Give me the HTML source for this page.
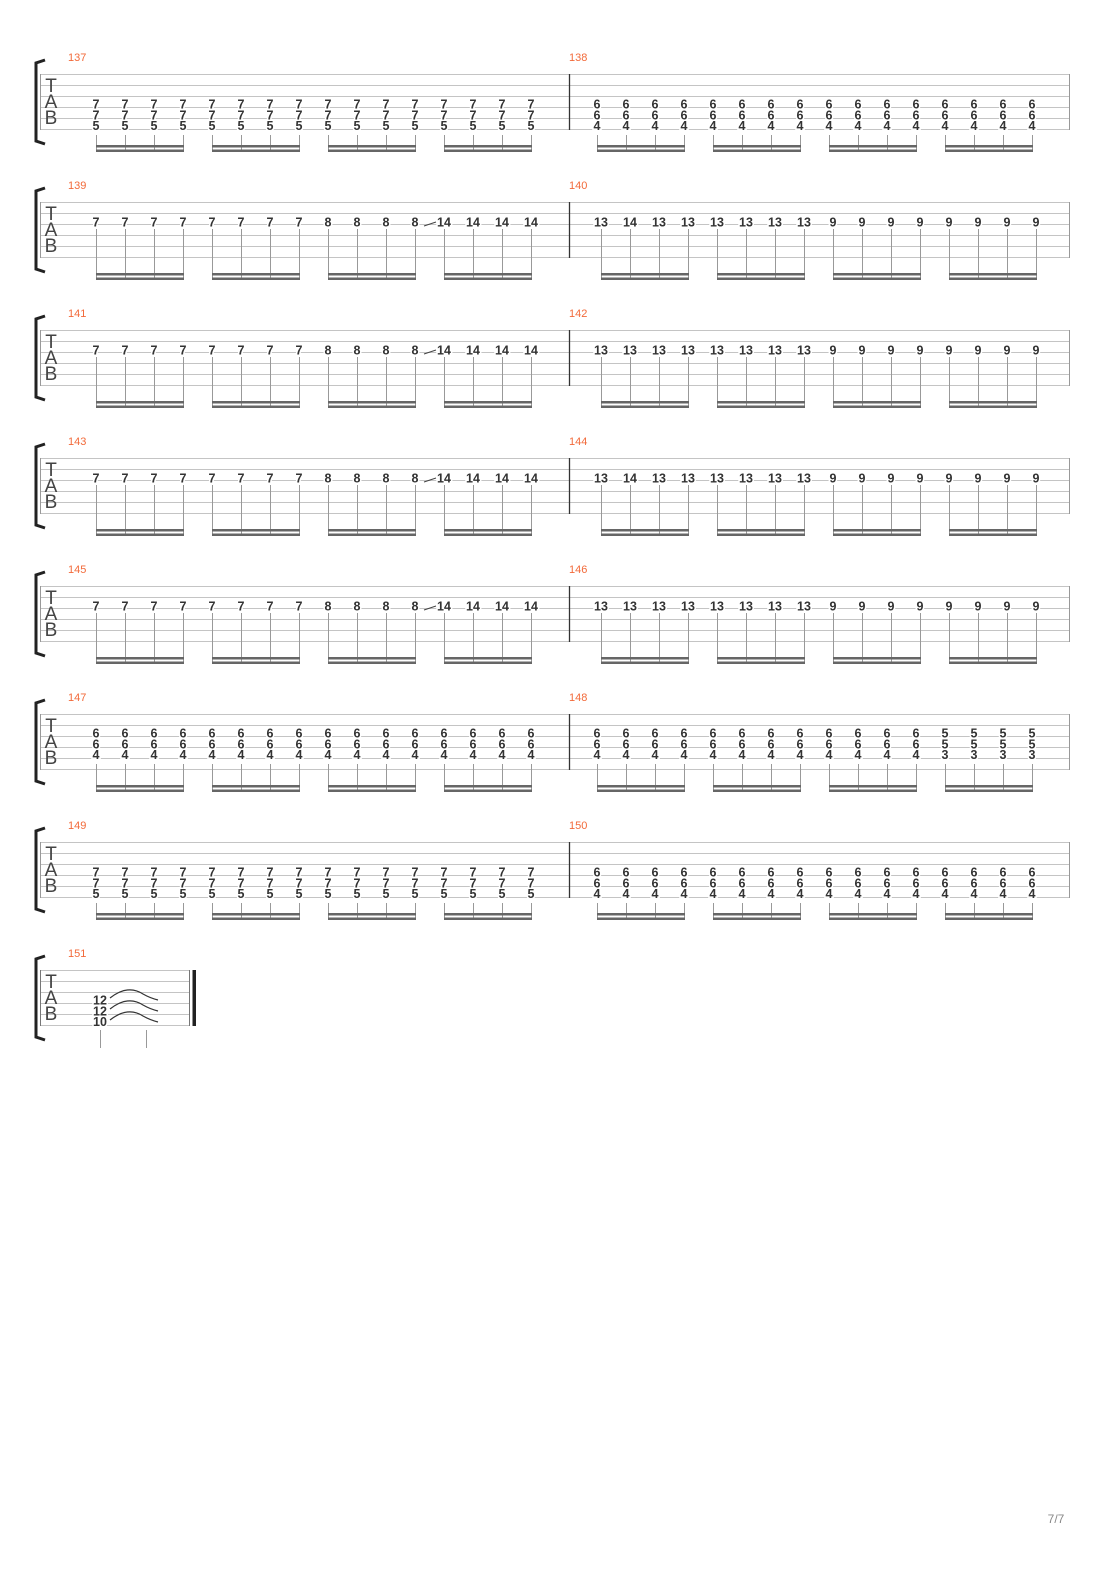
<!DOCTYPE html>
<html><head><meta charset="utf-8"><style>
html,body{margin:0;padding:0;background:#fff;}
svg{display:block;}
.n{font-family:"Liberation Sans",sans-serif;font-weight:bold;font-size:12.5px;fill:#333;text-anchor:middle;stroke:#fff;stroke-width:3px;paint-order:stroke;}
.m{font-family:"Liberation Sans",sans-serif;font-size:11px;fill:#f26a3a;}
.tab{font-family:"Liberation Sans",sans-serif;font-size:19px;fill:#444;text-anchor:middle;}
</style></head><body>
<svg width="1110" height="1570" viewBox="0 0 1110 1570" xmlns="http://www.w3.org/2000/svg">
<defs>
<g id="staff">
<path d="M40 0.5H1069M40 11.5H1069M40 22.5H1069M40 33.5H1069M40 44.5H1069M40 55.5H1069" stroke="#c4c4c4" stroke-width="1" fill="none"/>
<path d="M40.5 0V56M1069.5 0V56" stroke="#999" stroke-width="1"/>
<path d="M569.5 0V56" stroke="#333" stroke-width="1.3"/>
<path d="M45 -14 L36 -11 L36 67 L45 70" stroke="#222" stroke-width="3" fill="none"/>
<text class="tab" x="51" y="18">T</text><text class="tab" x="51" y="34">A</text><text class="tab" x="51" y="50">B</text>
</g>
<g id="sA"><path d="M0.5 61V78M29.5 61V78M58.5 61V78M87.5 61V78" stroke="#999"/><rect x="0" y="71" width="88" height="2.5" fill="#666"/><rect x="0" y="75.5" width="88" height="2.5" fill="#666"/></g>
<g id="sB"><path d="M0.5 27V78M29.5 27V78M58.5 27V78M87.5 27V78" stroke="#999"/><rect x="0" y="71" width="88" height="2.5" fill="#666"/><rect x="0" y="75.5" width="88" height="2.5" fill="#666"/></g>
<g id="sC"><path d="M0.5 50V78M29.5 50V78M58.5 50V78M87.5 50V78" stroke="#999"/><rect x="0" y="71" width="88" height="2.5" fill="#666"/><rect x="0" y="75.5" width="88" height="2.5" fill="#666"/></g>
<g id="bA1"><use href="#sA" x="96"/><use href="#sA" x="212"/><use href="#sA" x="328"/><use href="#sA" x="444"/><use href="#sA" x="597"/><use href="#sA" x="713"/><use href="#sA" x="829"/><use href="#sA" x="945"/></g>
<g id="bB1"><use href="#sB" x="96"/><use href="#sB" x="212"/><use href="#sB" x="328"/><use href="#sB" x="444"/><use href="#sB" x="601"/><use href="#sB" x="717"/><use href="#sB" x="833"/><use href="#sB" x="949"/><path d="M424 226 L436 222" stroke="#444" stroke-width="1" transform="translate(0,-202)"/></g>
<g id="bC1"><use href="#sC" x="96"/><use href="#sC" x="212"/><use href="#sC" x="328"/><use href="#sC" x="444"/><use href="#sC" x="597"/><use href="#sC" x="713"/><use href="#sC" x="829"/><use href="#sC" x="945"/></g>
</defs>
<rect width="1110" height="1570" fill="#fff"/>

<!-- staves -->
<use href="#staff" y="74"/><use href="#staff" y="202"/><use href="#staff" y="330"/><use href="#staff" y="458"/><use href="#staff" y="586"/><use href="#staff" y="714"/><use href="#staff" y="842"/>
<use href="#bA1" y="74"/><use href="#bB1" y="202"/><use href="#bB1" y="330"/><use href="#bB1" y="458"/><use href="#bB1" y="586"/><use href="#bC1" y="714"/><use href="#bA1" y="842"/>

<!-- measure numbers -->
<text class="m" x="68" y="61">137</text><text class="m" x="569" y="61">138</text>
<text class="m" x="68" y="189">139</text><text class="m" x="569" y="189">140</text>
<text class="m" x="68" y="317">141</text><text class="m" x="569" y="317">142</text>
<text class="m" x="68" y="445">143</text><text class="m" x="569" y="445">144</text>
<text class="m" x="68" y="573">145</text><text class="m" x="569" y="573">146</text>
<text class="m" x="68" y="701">147</text><text class="m" x="569" y="701">148</text>
<text class="m" x="68" y="829">149</text><text class="m" x="569" y="829">150</text>
<text class="m" x="68" y="957">151</text>

<!-- 137/138 -->
<text class="n" x="96 125 154 183 212 241 270 299 328 357 386 415 444 473 502 531" y="108.5">7777777777777777</text>
<text class="n" x="96 125 154 183 212 241 270 299 328 357 386 415 444 473 502 531" y="119.5">7777777777777777</text>
<text class="n" x="96 125 154 183 212 241 270 299 328 357 386 415 444 473 502 531" y="130">5555555555555555</text>
<text class="n" x="597 626 655 684 713 742 771 800 829 858 887 916 945 974 1003 1032" y="108.5">6666666666666666</text>
<text class="n" x="597 626 655 684 713 742 771 800 829 858 887 916 945 974 1003 1032" y="119.5">6666666666666666</text>
<text class="n" x="597 626 655 684 713 742 771 800 829 858 887 916 945 974 1003 1032" y="130">4444444444444444</text>

<!-- 139/140 -->
<g id="r139">
<text class="n" x="96 125 154 183 212 241 270 299 328 357 386 415" y="226.5">777777778888</text>
<text class="n" x="444" y="226.5">14</text><text class="n" x="473" y="226.5">14</text><text class="n" x="502" y="226.5">14</text><text class="n" x="531" y="226.5">14</text>
</g>
<text class="n" x="601" y="226.5">13</text><text class="n" x="630" y="226.5">14</text><text class="n" x="659" y="226.5">13</text><text class="n" x="688" y="226.5">13</text><text class="n" x="717" y="226.5">13</text><text class="n" x="746" y="226.5">13</text><text class="n" x="775" y="226.5">13</text><text class="n" x="804" y="226.5">13</text>
<text class="n" x="833 862 891 920 949 978 1007 1036" y="226.5">99999999</text>

<!-- 141/142 -->
<use href="#r139" y="128"/>
<g id="r142">
<text class="n" x="601" y="354.5">13</text><text class="n" x="630" y="354.5">13</text><text class="n" x="659" y="354.5">13</text><text class="n" x="688" y="354.5">13</text><text class="n" x="717" y="354.5">13</text><text class="n" x="746" y="354.5">13</text><text class="n" x="775" y="354.5">13</text><text class="n" x="804" y="354.5">13</text>
<text class="n" x="833 862 891 920 949 978 1007 1036" y="354.5">99999999</text>
</g>

<!-- 143/144 -->
<use href="#r139" y="256"/>
<text class="n" x="601" y="482.5">13</text><text class="n" x="630" y="482.5">14</text><text class="n" x="659" y="482.5">13</text><text class="n" x="688" y="482.5">13</text><text class="n" x="717" y="482.5">13</text><text class="n" x="746" y="482.5">13</text><text class="n" x="775" y="482.5">13</text><text class="n" x="804" y="482.5">13</text>
<text class="n" x="833 862 891 920 949 978 1007 1036" y="482.5">99999999</text>

<!-- 145/146 -->
<use href="#r139" y="384"/>
<use href="#r142" y="256"/>

<!-- 147/148 -->
<text class="n" x="96 125 154 183 212 241 270 299 328 357 386 415 444 473 502 531" y="737.5">6666666666666666</text>
<text class="n" x="96 125 154 183 212 241 270 299 328 357 386 415 444 473 502 531" y="748.5">6666666666666666</text>
<text class="n" x="96 125 154 183 212 241 270 299 328 357 386 415 444 473 502 531" y="759">4444444444444444</text>
<text class="n" x="597 626 655 684 713 742 771 800 829 858 887 916 945 974 1003 1032" y="737.5">6666666666665555</text>
<text class="n" x="597 626 655 684 713 742 771 800 829 858 887 916 945 974 1003 1032" y="748.5">6666666666665555</text>
<text class="n" x="597 626 655 684 713 742 771 800 829 858 887 916 945 974 1003 1032" y="759">4444444444443333</text>

<!-- 149/150 -->
<text class="n" x="96 125 154 183 212 241 270 299 328 357 386 415 444 473 502 531" y="876.5">7777777777777777</text>
<text class="n" x="96 125 154 183 212 241 270 299 328 357 386 415 444 473 502 531" y="887.5">7777777777777777</text>
<text class="n" x="96 125 154 183 212 241 270 299 328 357 386 415 444 473 502 531" y="898">5555555555555555</text>
<text class="n" x="597 626 655 684 713 742 771 800 829 858 887 916 945 974 1003 1032" y="876.5">6666666666666666</text>
<text class="n" x="597 626 655 684 713 742 771 800 829 858 887 916 945 974 1003 1032" y="887.5">6666666666666666</text>
<text class="n" x="597 626 655 684 713 742 771 800 829 858 887 916 945 974 1003 1032" y="898">4444444444444444</text>

<!-- 151 -->
<g transform="translate(0,970)">
<path d="M40 0.5H190M40 11.5H190M40 22.5H190M40 33.5H190M40 44.5H190M40 55.5H190" stroke="#c4c4c4" stroke-width="1" fill="none"/>
<path d="M40.5 0V56M189.5 0V56" stroke="#777" stroke-width="1"/>
<rect x="192.5" y="0" width="3.5" height="56" fill="#222"/>
<path d="M45 -14 L36 -11 L36 67 L45 70" stroke="#222" stroke-width="3" fill="none"/>
<text class="tab" x="51" y="18">T</text><text class="tab" x="51" y="34">A</text><text class="tab" x="51" y="50">B</text>
<path d="M110 28 Q128 14 143 24 Q150 28 158 30 M110 39 Q128 25 143 35 Q150 39 158 41 M110 50 Q128 36 143 46 Q150 50 158 52" stroke="#333" stroke-width="1.2" fill="none"/>
<path d="M100.5 60V78M146.5 60V78" stroke="#999"/>
</g>
<text class="n" x="100" y="1004.5">12</text>
<text class="n" x="100" y="1015.5">12</text>
<text class="n" x="100" y="1026">10</text>

<text x="1056" y="1523" font-family="Liberation Sans, sans-serif" font-size="12" fill="#888" text-anchor="middle">7/7</text>
</svg>
</body></html>
